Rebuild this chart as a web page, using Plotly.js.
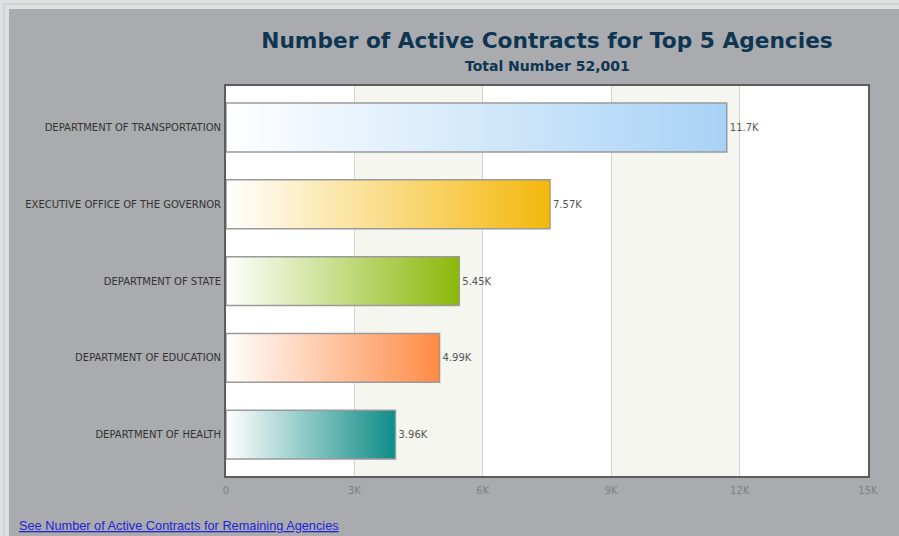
<!DOCTYPE html>
<html>
<head>
<meta charset="utf-8">
<script src="https://cdn.plot.ly/plotly-3.0.1.min.js"></script>
<style>html,body{margin:0;padding:0;background:#a9abae;}#chart{width:899px;height:536px;}</style>
</head>
<body>
<div id="chart"></div>
<script>
// ---- data ----
const agencies = [
  "DEPARTMENT OF TRANSPORTATION",
  "EXECUTIVE OFFICE OF THE GOVERNOR",
  "DEPARTMENT OF STATE",
  "DEPARTMENT OF EDUCATION",
  "DEPARTMENT OF HEALTH"
];
const contracts = [11700, 7570, 5450, 4990, 3960];
const barColors = ["#a8d2f5", "#f4b80c", "#8bb80a", "#ff8a45", "#0e8c86"];
const tickValues = [0, 3000, 6000, 9000, 12000, 15000];
const tickLabels = ["0", "3K", "6K", "9K", "12K", "15K"];
const titleText = "Number of Active Contracts for Top 5 Agencies";
const subtitleText = "Total Number 52,001";
const linkText = "See Number of Active Contracts for Remaining Agencies";

// ---- layout geometry ----
const W = 899, H = 536;
const M = {l: 226, r: 31, t: 86, b: 60};
const PW = W - M.l - M.r, PH = H - M.t - M.b;
const px2x = p => (p - M.l) / PW;
const px2y = p => (H - M.b - p) / PH;
const half = 0.319;

const pos = agencies.map((_, i) => i);
const traces = [];

// gradient-filled bars
contracts.forEach((v, i) => {
  traces.push({
    type: "scatter", mode: "lines",
    x: [0, v, v, 0, 0],
    y: [i - half, i - half, i + half, i + half, i - half],
    fill: "toself",
    fillgradient: {type: "horizontal", colorscale: [[0, "#ffffff"], [1, barColors[i]]]},
    line: {color: "#9a9a9a", width: 1.5},
    hoverinfo: "skip", showlegend: false
  });
});

// value labels
traces.push({
  type: "bar", orientation: "h",
  x: contracts, y: pos, width: 2 * half,
  marker: {color: "rgba(0,0,0,0)", line: {width: 0}},
  text: contracts.map(v => (v / 1000).toPrecision(3) + "K"),
  textposition: "outside", cliponaxis: false,
  textfont: {family: "DejaVu Sans, Verdana, sans-serif", size: 10, color: "#555"},
  hoverinfo: "x+y", showlegend: false
});

const shapes = [];
// alternating bands
for (let k = 0; k < tickValues.length - 1; k++) {
  if (k % 2 === 1) {
    shapes.push({type: "rect", layer: "below", xref: "x", yref: "paper",
      x0: tickValues[k], x1: tickValues[k + 1], y0: 0, y1: 1,
      fillcolor: "#f6f6f1", line: {width: 0}});
  }
}
// outer light frame (top and left)
shapes.push({type: "rect", layer: "below", xref: "paper", yref: "paper",
  x0: px2x(0), x1: px2x(W), y0: px2y(0), y1: px2y(9), fillcolor: "#dfe0e2", line: {width: 0}});
shapes.push({type: "rect", layer: "below", xref: "paper", yref: "paper",
  x0: px2x(0), x1: px2x(9), y0: px2y(0), y1: px2y(H), fillcolor: "#dfe0e2", line: {width: 0}});
shapes.push({type: "line", layer: "below", xref: "paper", yref: "paper",
  x0: px2x(4), x1: px2x(W), y0: px2y(4), y1: px2y(4), line: {color: "#c4c6c8", width: 1}});
shapes.push({type: "line", layer: "below", xref: "paper", yref: "paper",
  x0: px2x(4), x1: px2x(4), y0: px2y(4), y1: px2y(H), line: {color: "#c4c6c8", width: 1}});

const layout = {
  width: W, height: H,
  margin: M,
  paper_bgcolor: "#a9abae",
  plot_bgcolor: "#ffffff",
  showlegend: false,
  title: {
    text: "<b>" + titleText + "</b>",
    font: {family: "DejaVu Sans, Verdana, sans-serif", size: 21.7, color: "#0e3552"},
    xref: "paper", x: 0.5, xanchor: "center",
    yref: "container", y: 1 - 40 / H, yanchor: "middle"
  },
  annotations: [
    {text: "<b>" + subtitleText + "</b>", xref: "paper", yref: "paper",
     x: 0.5, y: px2y(66), xanchor: "center", yanchor: "middle", showarrow: false,
     font: {family: "DejaVu Sans, Verdana, sans-serif", size: 14, color: "#0e3552"}},
    {text: "<u>" + linkText + "</u>", xref: "paper", yref: "paper",
     x: px2x(17), y: px2y(525), xanchor: "left", yanchor: "middle", showarrow: false,
     font: {family: "Liberation Sans, Arial, sans-serif", size: 12.75, color: "#2323d6"}}
  ],
  xaxis: {
    range: [0, 15000], tickvals: tickValues, ticktext: tickLabels,
    showgrid: true, gridcolor: "#d4d4cc", gridwidth: 1,
    zeroline: false, showline: true, mirror: true, linecolor: "#5c5c5c", linewidth: 2,
    ticks: "", ticklabelstandoff: 4,
    tickfont: {family: "DejaVu Sans, Verdana, sans-serif", size: 10, color: "#808080"},
    fixedrange: true
  },
  yaxis: {
    range: [4.539, -0.542], tickvals: pos, ticktext: agencies,
    showgrid: false, zeroline: false, showline: true, mirror: true,
    linecolor: "#5c5c5c", linewidth: 2, ticks: "", ticklabelstandoff: 1,
    tickfont: {family: "DejaVu Sans, Verdana, sans-serif", size: 10, color: "#333"},
    fixedrange: true
  },
  shapes: shapes
};

Plotly.newPlot("chart", traces, layout, {displayModeBar: false});
</script>
</body>
</html>
